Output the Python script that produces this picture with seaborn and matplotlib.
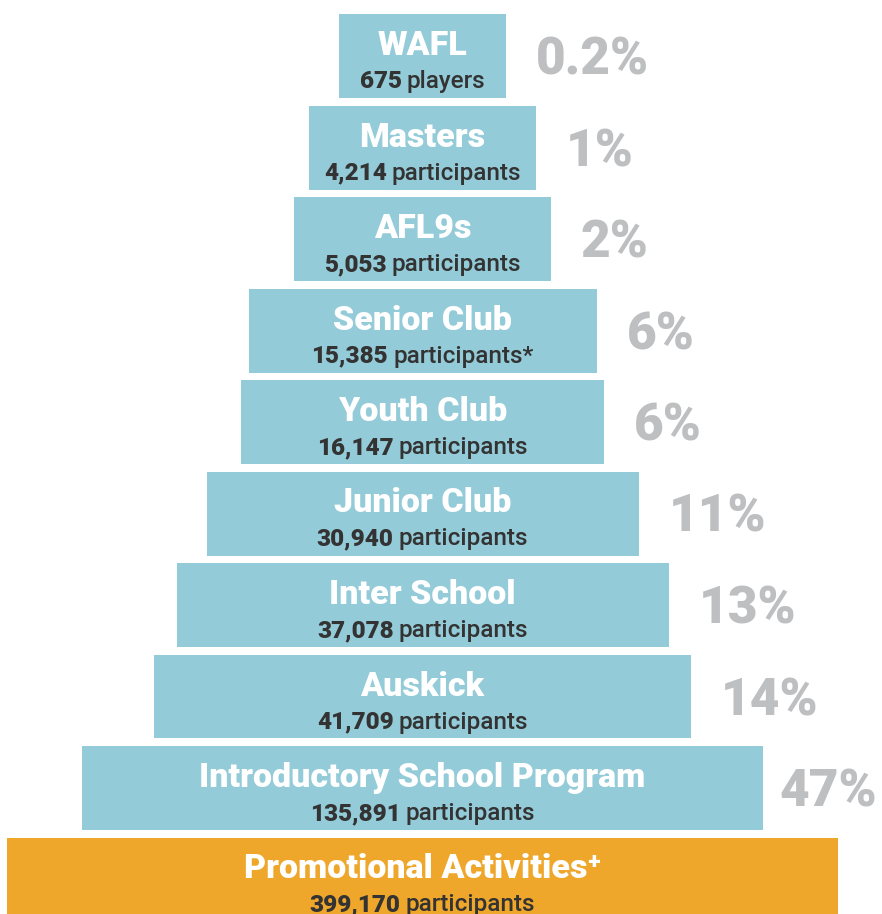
import matplotlib
matplotlib.use("Agg")
import matplotlib.pyplot as plt
import seaborn as sns
import pandas as pd

# ---- data ----
categories = ["WAFL", "Masters", "AFL9s", "Senior Club", "Youth Club", "Junior Club",
              "Inter School", "Auskick", "Introductory School Program",
              "Promotional Activities\u207a"]
participants = [675, 4214, 5053, 15385, 16147, 30940, 37078, 41709, 135891, 399170]
units = ["players", "participants", "participants", "participants*", "participants",
         "participants", "participants", "participants", "participants", "participants"]
percent_labels = ["0.2%", "1%", "2%", "6%", "6%", "11%", "13%", "14%", "47%", ""]
bar_widths = [167, 227, 257, 348, 363, 432, 492, 537, 681, 831]   # display widths of the pyramid steps
group = ["club"] * 9 + ["promo"]

BLUE = "#94CBD8"
ORANGE = "#EEA72B"
GRAY = "#BEBFC1"
DARK = "#333333"

df = pd.DataFrame({"category": categories, "width": bar_widths, "group": group})

sns.set_theme(style="white")
plt.rcParams["font.family"] = ["Roboto", "DejaVu Sans"]

W, H = 882, 914
fig = plt.figure(figsize=(W / 100, H / 100), dpi=100)
ax = fig.add_axes([0, 0, 1, 1])

row_px = 91.5
sns.barplot(data=df, x="width", y="category", hue="group", order=categories,
            palette={"club": BLUE, "promo": ORANGE}, dodge=False,
            width=84 / row_px, legend=False, saturation=1, linewidth=0, ax=ax)

# center the bars to make the pyramid
for p in ax.patches:
    p.set_x(-p.get_width() / 2)

cx = 422.5
first_center = 56
ax.set_xlim(-cx, W - cx)
ax.set_ylim((H - first_center) / row_px, -first_center / row_px)
ax.axis("off")

fam = ["Roboto", "DejaVu Sans"]
renderer = fig.canvas.get_renderer()
for i, (cat, n, u, pct, w) in enumerate(zip(categories, participants, units,
                                             percent_labels, bar_widths)):
    # title
    ax.text(0, i - 1 / row_px, cat, ha="center", va="baseline", color="white",
            fontsize=24.5, fontweight="heavy", family=fam)
    # number line
    yb = i + 32 / row_px
    t1 = ax.text(0, yb, f"{n:,}", ha="left", va="baseline", color=DARK,
                 fontsize=17.5, fontweight="heavy", family=fam)
    t2 = ax.text(0, yb, u, ha="left", va="baseline", color=DARK,
                 fontsize=17.5, fontweight="medium", family=fam)
    w1 = t1.get_window_extent(renderer).width
    w2 = t2.get_window_extent(renderer).width
    gap = 5
    start = -(w1 + gap + w2) / 2
    t1.set_x(start)
    t2.set_x(start + w1 + gap)
    # percent label
    if pct:
        tp = ax.text(w / 2 + 30, i + 18.5 / row_px, pct, ha="left", va="baseline",
                     color=GRAY, fontsize=37, fontweight="heavy", family=fam)
        wp = tp.get_window_extent(renderer).width
        right_limit = (W - cx) - 5
        if w / 2 + 30 + wp > right_limit:
            tp.set_x(right_limit - wp)

fig.savefig("out.png", dpi=100)
